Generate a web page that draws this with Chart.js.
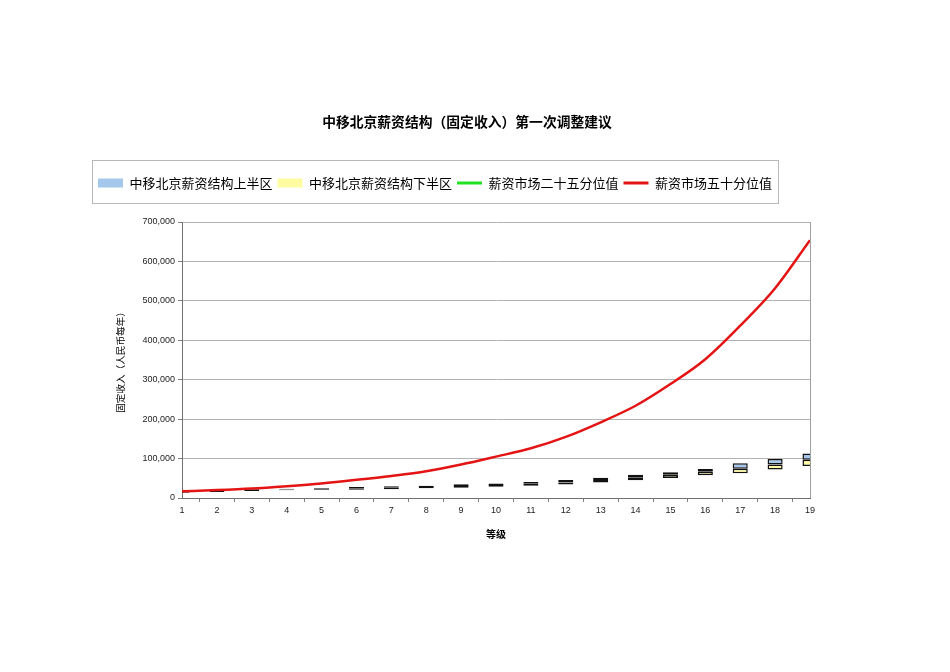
<!DOCTYPE html>
<html><head><meta charset="utf-8">
<script src="https://cdn.jsdelivr.net/npm/chart.js@4/dist/chart.umd.min.js"></script>
<style>html,body{margin:0;padding:0;background:#fff;}canvas{display:block;}</style>
</head><body>
<canvas id="c" width="950" height="672"></canvas>
<script>
// ---- data ----
const chartTitle = '中移北京薪资结构（固定收入）第一次调整建议';
const xAxisTitle = '等级';
const yAxisTitle = '固定收入（人民币每年）';
const seriesNames = ['中移北京薪资结构上半区', '中移北京薪资结构下半区', '薪资市场二十五分位值', '薪资市场五十分位值'];
const grades = [1,2,3,4,5,6,7,8,9,10,11,12,13,14,15,16,17,18,19];
const structureTop    = [17500,20500,22000,23500,24500,28000,29500,31000,35000,37000,40500,45500,51500,59000,65000,73500,88000,99000,113000];
const structureMid    = [15500,18000,20000,21500,22000,24500,26000,28000,30500,33000,36000,39500,45500,51500,59000,66500,74000,85000,97000];
const structureBottom = [13000,15500,18000,19500,20000,21000,22000,24500,26000,28500,31000,34500,39000,45000,51000,57500,63000,72000,81000];
const market25 = []; // no green line is visible in the reference
const market50 = [17000,20000,24000,30000,37000,46000,56000,68000,85000,105000,126000,155000,192000,234000,289000,352000,437000,532000,654000];
const yTickValues = [0,100000,200000,300000,400000,500000,600000,700000];

// ---- styles ----
const FONT = "'Liberation Sans','Noto Sans CJK SC',sans-serif";
const CJK = "'Noto Sans CJK SC','Liberation Sans',sans-serif";
const BLUE = '#a6c7ec', YELLOW = '#fefba0', GREEN = '#22e022', RED = '#e41414';

Chart.defaults.font.family = FONT;
Chart.defaults.color = '#222';

const layoutFix = {
  id: 'layoutFix',
  afterLayout(chart) {
    const lg = chart.legend;
    const dy = 171.5 - lg.top;
    lg.top += dy; lg.bottom += dy;
    const t = chart.titleBlock;
    const dx = 467 - (t.left + t.right) / 2;
    t.left += dx; t.right += dx;
  },
  beforeDatasetsDraw(chart) {
    const a = chart.chartArea, ctx = chart.ctx;
    ctx.save();
    ctx.strokeStyle = '#a0a0a0'; ctx.lineWidth = 1;
    ctx.beginPath();
    ctx.moveTo(Math.round(a.right) + 0.5, a.top);
    ctx.lineTo(Math.round(a.right) + 0.5, a.bottom);
    ctx.stroke();
    ctx.restore();
  },
  afterDraw(chart) {
    const hb = chart.legend.legendHitBoxes;
    if (!hb || !hb.length) return;
    const last = hb[hb.length - 1];
    const cy = hb[0].top + hb[0].height / 2;
    const l = Math.round(hb[0].left - 6) + 0.5, r = Math.round(last.left + last.width + 6) + 0.5;
    const ctx = chart.ctx;
    ctx.save();
    ctx.strokeStyle = '#b8b8b8'; ctx.lineWidth = 1;
    ctx.strokeRect(l, Math.round(cy - 23) + 0.5, r - l, 43);
    ctx.restore();
  }
};

const barStyle = { type: 'bar', order: 2, grouped: false, clip: 0, borderColor: '#111', borderWidth: 1.5,
  borderSkipped: false, barPercentage: 0.54, categoryPercentage: 0.8 };

const datasets = [
  Object.assign({}, barStyle, { label: seriesNames[0], backgroundColor: BLUE,
    data: grades.map((g, i) => ({ x: g, y: [structureMid[i], structureTop[i]] })) }),
  Object.assign({}, barStyle, { label: seriesNames[1], backgroundColor: YELLOW,
    data: grades.map((g, i) => ({ x: g, y: [structureBottom[i], structureMid[i]] })) }),
  { type: 'line', label: seriesNames[2], order: 1,
    data: market25.map((v, i) => ({ x: grades[i], y: v })),
    borderColor: GREEN, backgroundColor: GREEN, borderWidth: 2.5, pointRadius: 0, cubicInterpolationMode: 'monotone' },
  { type: 'line', label: seriesNames[3], order: 0,
    data: market50.map((v, i) => ({ x: grades[i], y: v })),
    borderColor: RED, backgroundColor: RED, borderWidth: 2.5, pointRadius: 0, cubicInterpolationMode: 'monotone' }
];

new Chart(document.getElementById('c'), {
  type: 'bar',
  data: { datasets },
  plugins: [layoutFix],
  options: {
    responsive: false, animation: false,
    layout: { padding: { top: 113.7, left: 93, right: 140, bottom: 124 } },
    plugins: {
      tooltip: { enabled: false },
      title: { display: true, text: chartTitle, color: '#000',
        font: { family: CJK, size: 13.8, weight: 'bold' }, padding: { top: 0, bottom: 63.74 } },
      legend: {
        position: 'top', align: 'start',
        labels: {
          usePointStyle: true, pointStyleWidth: 25, boxHeight: 9, padding: 5, color: '#000',
          font: { family: CJK, size: 13 },
          generateLabels(chart) {
            return chart.data.datasets.map((ds, i) => ({
              text: ds.label, datasetIndex: i, hidden: false, fontColor: '#000',
              fillStyle: ds.type === 'line' ? ds.borderColor : ds.backgroundColor,
              strokeStyle: ds.type === 'line' ? ds.borderColor : '#8fb2d8',
              lineWidth: ds.type === 'line' ? 3 : 0,
              pointStyle: ds.type === 'line' ? 'line' : 'rect'
            }));
          }
        }
      }
    },
    scales: {
      x: {
        type: 'linear', min: grades[0], max: grades[grades.length - 1], offset: false,
        afterFit(s) { s.height = 50; },
        ticks: { stepSize: 1, autoSkip: false, maxRotation: 0, padding: 3, color: '#222',
          font: { size: 9, family: FONT } },
        grid: { drawOnChartArea: false, drawTicks: true, tickLength: 4, tickColor: '#808080' },
        border: { color: '#707070', width: 1 },
        title: { display: true, text: xAxisTitle, color: '#000',
          font: { family: CJK, size: 10, weight: 'bold' }, padding: { top: 0, bottom: 8 } }
      },
      y: {
        min: yTickValues[0], max: yTickValues[yTickValues.length - 1],
        afterFit(s) { s.width = 89; },
        afterBuildTicks(s) { s.ticks = yTickValues.map(v => ({ value: v })); },
        ticks: { padding: 3, color: '#222', font: { size: 9, family: FONT },
          callback: v => v.toLocaleString('en-US') },
        grid: { color: '#b3b3b3', tickLength: 4, tickColor: '#808080' },
        border: { color: '#707070', width: 1 },
        title: { display: true, text: yAxisTitle, color: '#000',
          font: { family: CJK, size: 9.6 }, padding: { top: 21.2, bottom: 0 } }
      }
    }
  }
});
</script>
</body></html>
